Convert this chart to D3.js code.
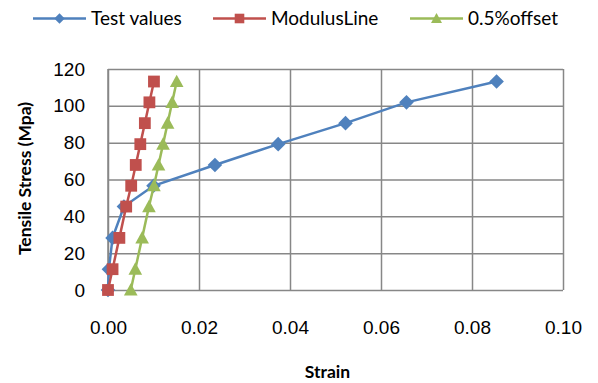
<!DOCTYPE html>
<html>
<head>
<meta charset="utf-8">
<script src="https://cdnjs.cloudflare.com/ajax/libs/d3/7.8.5/d3.min.js"></script>
<style>
	body { margin: 0; background: #fff; }
	svg { display: block; font-family: Lato, "Open Sans", sans-serif; }
	.grid line { stroke: #878787; stroke-width: 1.5; }
	.grid text { font-size: 19px; fill: #000; }
	.axis-title { font-size: 17.5px; font-weight: bold; fill: #000; }
	.legend text { font-size: 19px; fill: #000; }
</style>
</head>
<body>
<svg id="chart" width="598" height="383"></svg>
<script>
"use strict";

// Stress levels (MPa), shared by all three series
var stress = [0, 11.3, 28.3, 45.3, 56.6, 67.9, 79.2, 90.6, 101.9, 113.2];

// Strain per series
var testStrain = [0, 0.0002, 0.0010, 0.0035, 0.0100, 0.0235, 0.0374, 0.0522, 0.0656, 0.0854];
var modulusStrain = [0, 0.0010, 0.0025, 0.0040, 0.0051, 0.0061, 0.0071, 0.0081, 0.0091, 0.0101];
var offsetStrain = [0.0050, 0.0060, 0.0075, 0.0090, 0.0101, 0.0111, 0.0121, 0.0131, 0.0141, 0.0151];

var seriesNames = ["Test values", "ModulusLine", "0.5%offset"];
var xTicks = [0, 0.02, 0.04, 0.06, 0.08, 0.10];
var yTicks = [0, 20, 40, 60, 80, 100, 120];

var colours = ["#4f81bd", "#c0504d", "#9bbb59"];

// marker shapes, centred on 0,0
function markerPath(kind, s) {
	if (kind === 0) return "M 0," + (-s) + " L " + s + ",0 L 0," + s + " L " + (-s) + ",0Z"; // diamond
	if (kind === 1) return "M " + (-s) + "," + (-s) + " L " + s + "," + (-s) + " L " + s + "," + s + " L " + (-s) + "," + s + "Z"; // square
	return "M 0," + (-s * 1.1) + " L " + (s * 1.1) + "," + (s * 0.9) + " L " + (-s * 1.1) + "," + (s * 0.9) + "Z"; // triangle
}
var markerSize = [7.3, 5.9, 6.2];
var legendMarkerSize = [5.2, 4.8, 5];

var svg = d3.select("#chart");
var margin = {top: 69, right: 35, bottom: 93, left: 108};
var width = +svg.attr("width") - margin.left - margin.right;
var height = +svg.attr("height") - margin.top - margin.bottom;

var x = d3.scaleLinear().domain([0, 0.1]).range([0, width]);
var y = d3.scaleLinear().domain([0, 120]).range([height, 0]);

var chart = svg.append("g")
	.attr("transform", "translate(" + margin.left + "," + margin.top + ")");

// Gridlines double as the tick labels
var xAxisElt = chart.append("g")
	.attr("class", "grid")
	.attr("transform", "translate(0," + height + ")")
	.call(d3.axisBottom(x).tickValues(xTicks).tickSize(-height).tickPadding(30.5).tickFormat(d3.format(".2f")));
var yAxisElt = chart.append("g")
	.attr("class", "grid")
	.call(d3.axisLeft(y).tickValues(yTicks).tickSize(-width).tickPadding(23).tickFormat(d3.format("d")));
xAxisElt.select(".domain").remove();
yAxisElt.select(".domain").remove();
// left edge of the plot area
chart.append("line").attr("x1", 0).attr("x2", 0).attr("y1", 0).attr("y2", height)
	.attr("stroke", "#878787").attr("stroke-width", 1.5);

// Series
var series = [testStrain, modulusStrain, offsetStrain].map(function (strain, i) {
	return {name: seriesNames[i], points: strain.map(function (s, j) { return {strain: s, stress: stress[j]}; })};
});

var line = d3.line()
	.x(function (d) { return x(d.strain); })
	.y(function (d) { return y(d.stress); });

var seriesG = chart.selectAll("g.series")
	.data(series)
	.enter()
	.append("g")
	.attr("class", "series");

seriesG.append("path")
	.attr("fill", "none")
	.attr("stroke", function (d, i) { return colours[i]; })
	.attr("stroke-width", 2.5)
	.attr("d", function (d) { return line(d.points); });

seriesG.each(function (d, i) {
	d3.select(this).selectAll("path.mark")
		.data(d.points)
		.enter()
		.append("path")
		.attr("class", "mark")
		.attr("transform", function (p) { return "translate(" + x(p.strain) + "," + y(p.stress) + ")"; })
		.attr("fill", colours[i])
		.attr("d", markerPath(i, markerSize[i]));
});

// Axis titles
svg.append("text")
	.attr("class", "axis-title")
	.attr("x", margin.left + x(0.05) - 8)
	.attr("y", 378)
	.attr("text-anchor", "middle")
	.text("Strain");
svg.append("text")
	.attr("class", "axis-title")
	.attr("transform", "translate(31," + (margin.top + height / 2 - 1) + ") rotate(-90)")
	.attr("text-anchor", "middle")
	.text("Tensile Stress (Mpa)");

// Legend across the top
var legendX = [33, 213, 410];
var legend = svg.append("g").attr("class", "legend")
	.selectAll("g")
	.data(seriesNames)
	.enter()
	.append("g")
	.attr("transform", function (d, i) { return "translate(" + legendX[i] + ",18.5)"; });
legend.append("line")
	.attr("x1", 0).attr("x2", 53)
	.attr("stroke", function (d, i) { return colours[i]; })
	.attr("stroke-width", 2.5);
legend.append("path")
	.attr("transform", "translate(26.5,0)")
	.attr("fill", function (d, i) { return colours[i]; })
	.attr("d", function (d, i) { return markerPath(i, legendMarkerSize[i]); });
legend.append("text")
	.attr("x", 58)
	.attr("dy", "0.35em")
	.text(function (d) { return d; });
</script>
</body>
</html>
